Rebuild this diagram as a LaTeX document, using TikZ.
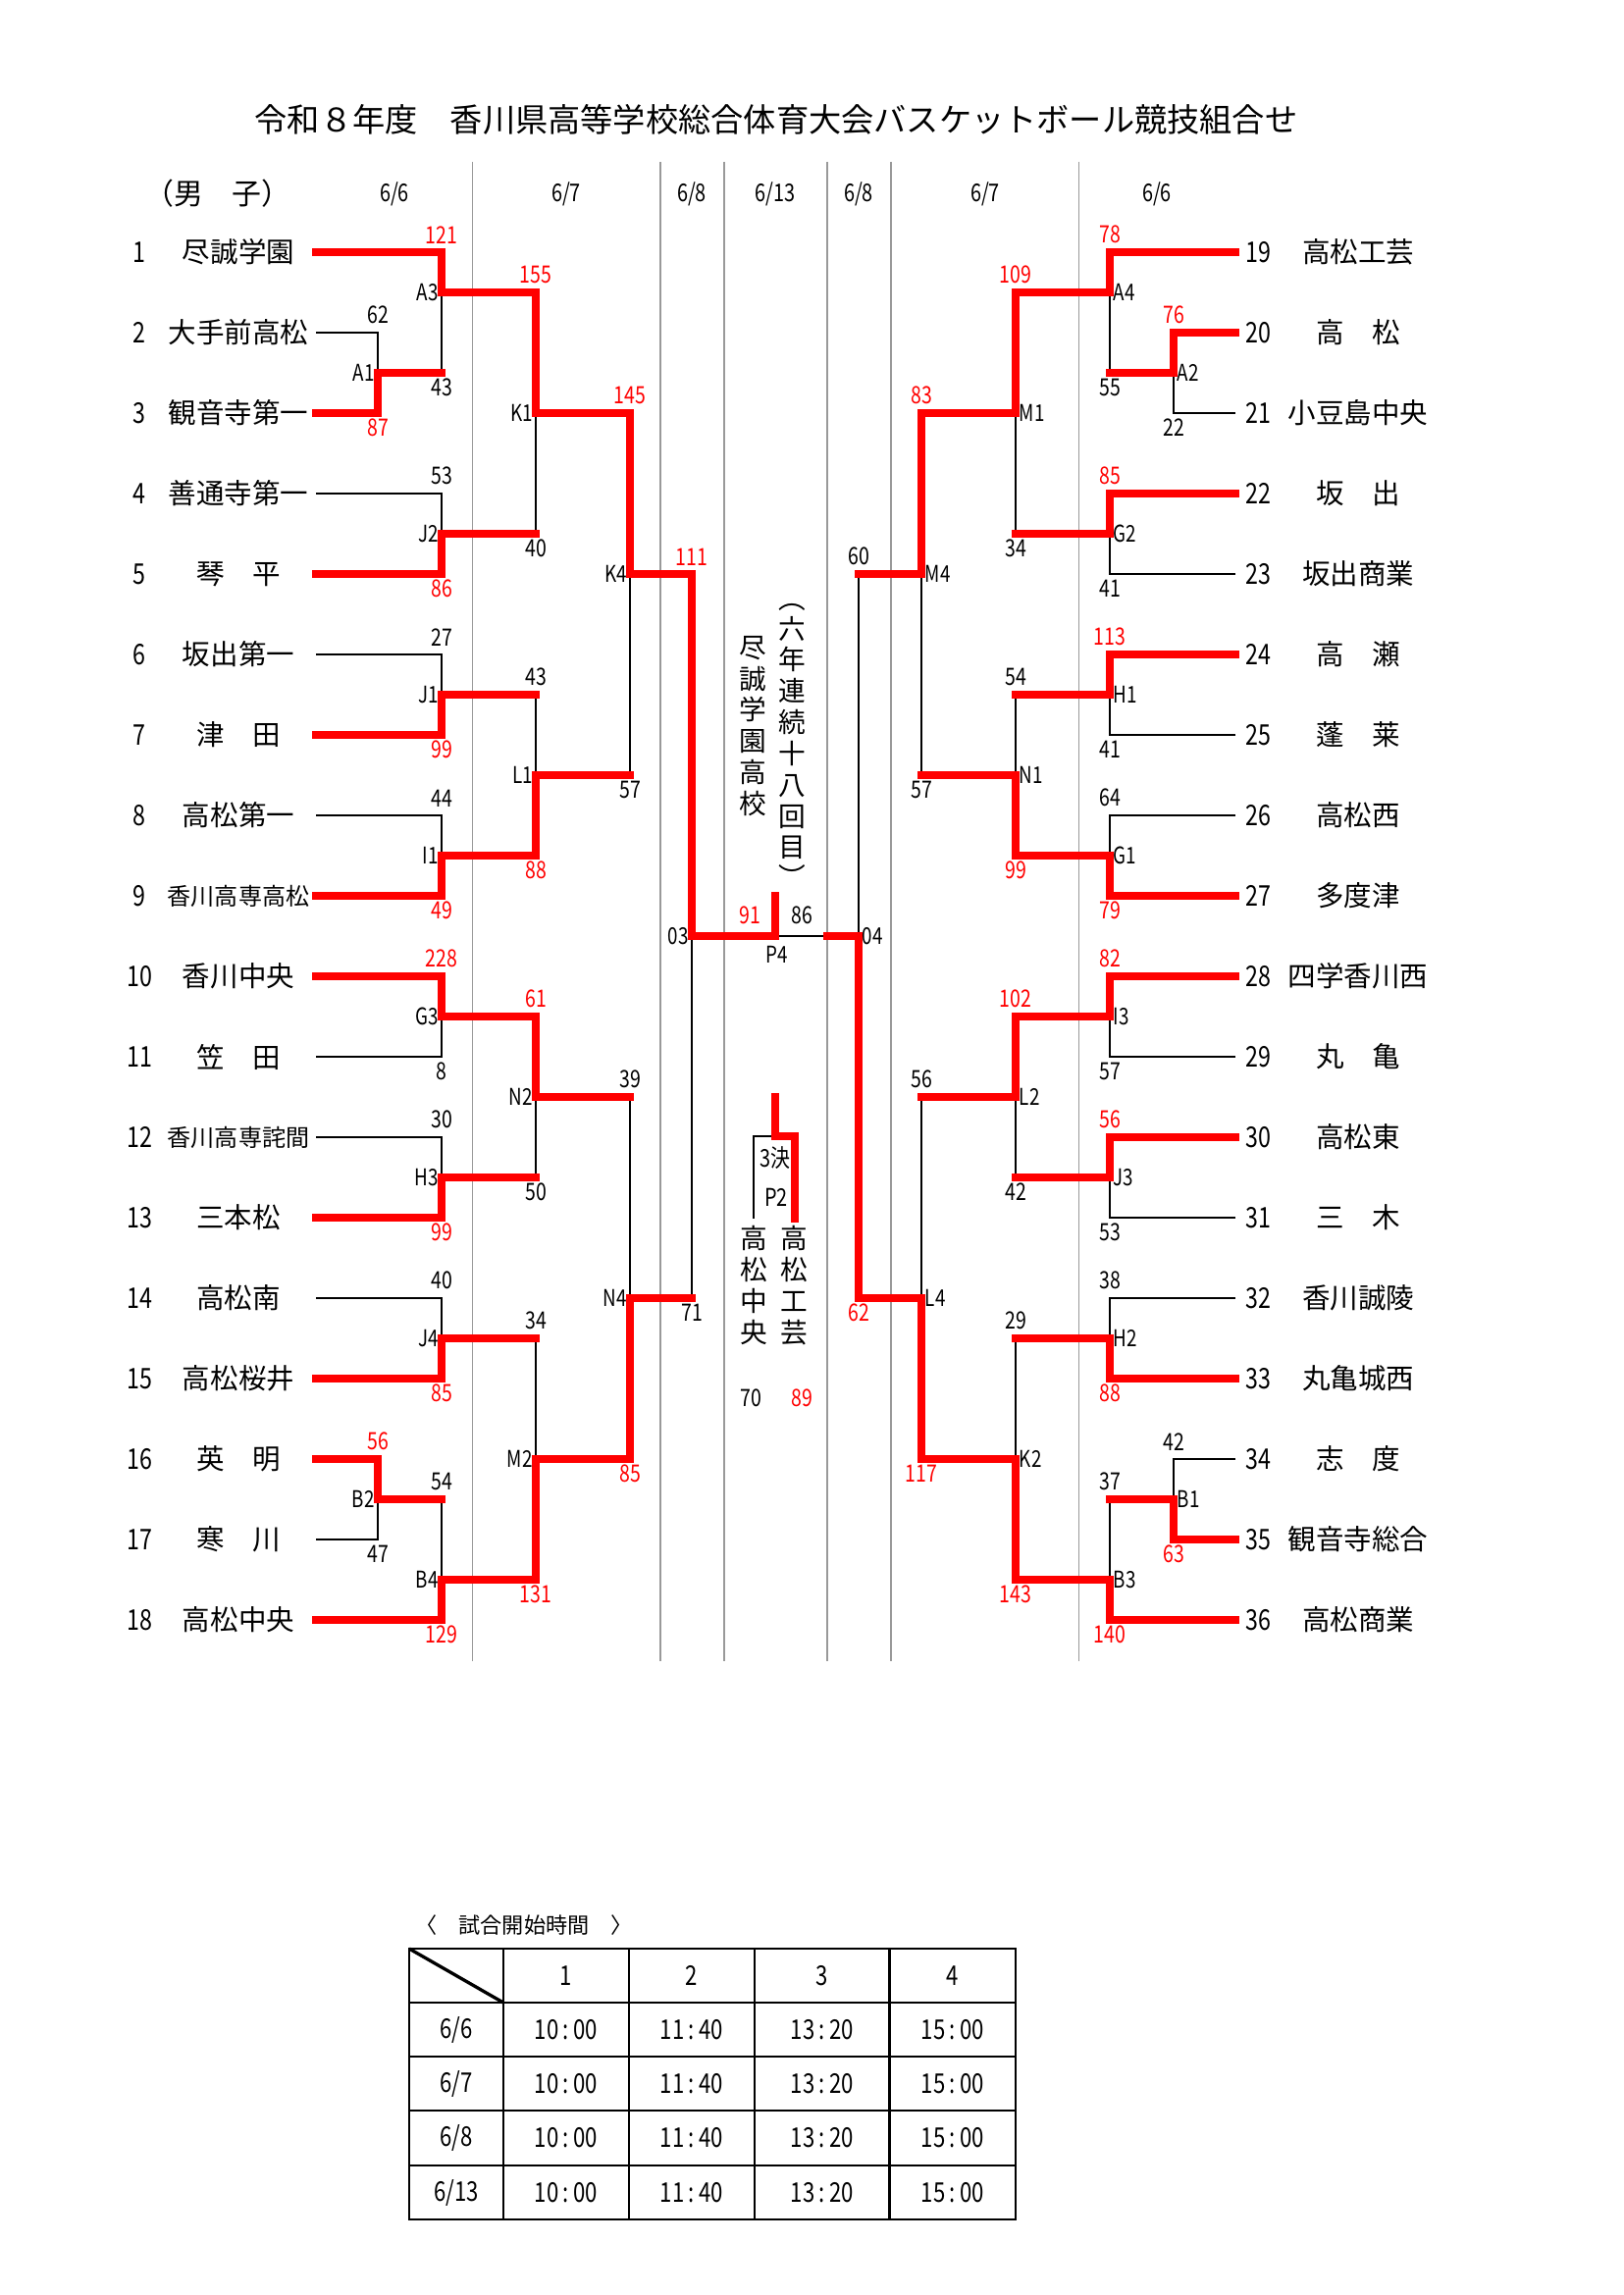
\documentclass[tikz,border=0pt]{standalone}
\usepackage{fontspec}
\setmainfont{Noto Sans CJK JP}
\newfontfamily\nf[FakeStretch=0.8]{Noto Sans CJK JP}
\usetikzlibrary{calc}
\begin{document}
\begin{tikzpicture}[x=0.127mm,y=-0.127mm,
  win/.style={draw=red, line width=2.6pt, line cap=rect, line join=miter},
  lose/.style={draw=black, line width=0.75pt},
  gline/.style={draw=black!40, line width=0.5pt},
  sc/.style={font=\nf\fontsize{8.8}{10}\selectfont, inner sep=0pt},
  scr/.style={sc, text=red},
  ml/.style={font=\nf\fontsize{8.5}{10}\selectfont, inner sep=0pt},
  tnum/.style={font=\nf\fontsize{10.5}{12}\selectfont, inner sep=0pt},
  tname/.style={inner sep=0pt},
  hdr/.style={font=\nf\fontsize{9}{10}\selectfont, inner sep=0pt},
  vt/.style={font=\fontsize{10}{11.5}\selectfont, align=center, inner sep=0pt},
  tbl/.style={draw=black, line width=1pt},
  tcell/.style={font=\nf\fontsize{10}{12}\selectfont, inner sep=0pt}]
\useasboundingbox (0,0) rectangle (1654,2339);
\fill[white] (0,0) rectangle (1654,2339);

% title
\node[inner sep=0pt, font=\fontsize{12}{14}\selectfont] (title) at (791,122) {令和８年度　香川県高等学校総合体育大会バスケットボール競技組合せ};
\node[inner sep=0pt, font=\fontsize{10.8}{12}\selectfont] (sex) at (222,197) {（男　子）};

% round separators
\foreach \gx in {481.5,673,738,843,908,1099.5} \draw[gline] (\gx,165) -- (\gx,1693);

% date headers
\node[hdr] (d1) at (402,198) {6/6};
\node[hdr] (d2) at (577,198) {6/7};
\node[hdr] (d3) at (705,198) {6/8};
\node[hdr] (d4) at (790,198) {6/13};
\node[hdr] (d5) at (875,198) {6/8};
\node[hdr] (d6) at (1004,198) {6/7};
\node[hdr] (d7) at (1179,198) {6/6};

% teams left
\foreach \i/\fs/\nm in {1/10.3/尽誠学園,2/10.3/大手前高松,3/10.3/観音寺第一,4/10.3/善通寺第一,5/10.3/琴　平,6/10.3/坂出第一,7/10.3/津　田,8/10.3/高松第一,9/8.7/香川高専高松,10/10.3/香川中央,11/10.3/笠　田,12/8.7/香川高専詫間,13/10.3/三本松,14/10.3/高松南,15/10.3/高松桜井,16/10.3/英　明,17/10.3/寒　川,18/10.3/高松中央}{
  \pgfmathsetmacro\yy{257+82*(\i-1)}
  \coordinate (tl\i) at (322,\yy);
  \node[tnum] (no\i) at (142,\yy) {\i};
  \node[tname, font=\fontsize{\fs}{12}\selectfont] (nm\i) at (243,\yy) {\nm};
}
% teams right
\foreach \i/\fs/\nm in {19/10.3/高松工芸,20/10.3/高　松,21/10.3/小豆島中央,22/10.3/坂　出,23/10.3/坂出商業,24/10.3/高　瀬,25/10.3/蓬　莱,26/10.3/高松西,27/10.3/多度津,28/10.3/四学香川西,29/10.3/丸　亀,30/10.3/高松東,31/10.3/三　木,32/10.3/香川誠陵,33/10.3/丸亀城西,34/10.3/志　度,35/10.3/観音寺総合,36/10.3/高松商業}{
  \pgfmathsetmacro\yy{257+82*(\i-19)}
  \coordinate (tr\i) at (1259,\yy);
  \node[tnum] (no\i) at (1282,\yy) {\i};
  \node[tname, font=\fontsize{\fs}{12}\selectfont] (nm\i) at (1384,\yy) {\nm};
}

% match points left
\coordinate (mA1) at (385,380);
\coordinate (mA3) at (450,298);
\coordinate (mJ2) at (450,544);
\coordinate (mK1) at (546,421);
\coordinate (mJ1) at (450,708);
\coordinate (mI1) at (450,872);
\coordinate (mL1) at (546,790);
\coordinate (mK4) at (642,585);
\coordinate (mG3) at (450,1036);
\coordinate (mH3) at (450,1200);
\coordinate (mN2) at (546,1118);
\coordinate (mJ4) at (450,1364);
\coordinate (mB2) at (385,1528);
\coordinate (mB4) at (450,1610);
\coordinate (mM2) at (546,1487);
\coordinate (mN4) at (642,1323);
\coordinate (m03) at (705,954);
\coordinate (P4) at (790,954);
\coordinate (p4top) at (790,913);
\coordinate (g4) at (843,954);
% match points right
\coordinate (mA2) at (1196,380);
\coordinate (mA4) at (1131,298);
\coordinate (mG2) at (1131,544);
\coordinate (mM1) at (1035,421);
\coordinate (mH1) at (1131,708);
\coordinate (mG1) at (1131,872);
\coordinate (mN1) at (1035,790);
\coordinate (mM4) at (939,585);
\coordinate (mI3) at (1131,1036);
\coordinate (mJ3) at (1131,1200);
\coordinate (mL2) at (1035,1118);
\coordinate (mH2) at (1131,1364);
\coordinate (mB1) at (1196,1528);
\coordinate (mB3) at (1131,1610);
\coordinate (mK2) at (1035,1487);
\coordinate (mL4) at (939,1323);
\coordinate (m04) at (875,954);
% third place
\coordinate (P2) at (790,1158);
\coordinate (p2top) at (790,1118);
\coordinate (p2l) at (768,1242);
\coordinate (p2r) at (810,1242);

% ---- black (losing) lines
\draw[lose] (tl2) -| (mA1);
\draw[lose] (mA1 -| mA3) -- (mA3);
\draw[lose] (tl4) -| (mJ2);
\draw[lose] (mJ2 -| mK1) -- (mK1);
\draw[lose] (tl6) -| (mJ1);
\draw[lose] (tl8) -| (mI1);
\draw[lose] (mJ1 -| mL1) -- (mL1);
\draw[lose] (mL1 -| mK4) -- (mK4);
\draw[lose] (tl11) -| (mG3);
\draw[lose] (tl12) -| (mH3);
\draw[lose] (mH3 -| mN2) -- (mN2);
\draw[lose] (tl14) -| (mJ4);
\draw[lose] (tl17) -| (mB2);
\draw[lose] (mB2 -| mB4) -- (mB4);
\draw[lose] (mJ4 -| mM2) -- (mM2);
\draw[lose] (mN2 -| mN4) -- (mN4);
\draw[lose] (mN4 -| m03) -- (m03);
\draw[lose] (tr21) -| (mA2);
\draw[lose] (mA2 -| mA4) -- (mA4);
\draw[lose] (tr23) -| (mG2);
\draw[lose] (mG2 -| mM1) -- (mM1);
\draw[lose] (tr25) -| (mH1);
\draw[lose] (tr26) -| (mG1);
\draw[lose] (mH1 -| mN1) -- (mN1);
\draw[lose] (mN1 -| mM4) -- (mM4);
\draw[lose] (tr29) -| (mI3);
\draw[lose] (tr31) -| (mJ3);
\draw[lose] (mJ3 -| mL2) -- (mL2);
\draw[lose] (tr32) -| (mH2);
\draw[lose] (tr34) -| (mB1);
\draw[lose] (mB1 -| mB3) -- (mB3);
\draw[lose] (mH2 -| mK2) -- (mK2);
\draw[lose] (mL2 -| mL4) -- (mL4);
\draw[lose] (mM4 -| m04) -- (m04);
\draw[lose] (g4) -- (P4);
\draw[lose] (p2l) |- (P2);

% ---- red (winning) lines
\draw[win] (tl1) -| (mA3) -| (mK1) -| (mK4) -| (m03) -- (P4) -- (p4top);
\draw[win] (tl3) -| (mA1) -- (mA1 -| mA3);
\draw[win] (tl5) -| (mJ2) -- (mJ2 -| mK1);
\draw[win] (tl7) -| (mJ1) -- (mJ1 -| mL1);
\draw[win] (tl9) -| (mI1) -| (mL1) -- (mL1 -| mK4);
\draw[win] (tl10) -| (mG3) -| (mN2) -- (mN2 -| mN4);
\draw[win] (tl13) -| (mH3) -- (mH3 -| mN2);
\draw[win] (tl15) -| (mJ4) -- (mJ4 -| mM2);
\draw[win] (tl16) -| (mB2) -- (mB2 -| mB4);
\draw[win] (tl18) -| (mB4) -| (mM2) -| (mN4) -- (mN4 -| m03);
\draw[win] (tr19) -| (mA4) -| (mM1) -| (mM4) -- (mM4 -| m04);
\draw[win] (tr20) -| (mA2) -- (mA2 -| mA4);
\draw[win] (tr22) -| (mG2) -- (mG2 -| mM1);
\draw[win] (tr24) -| (mH1) -- (mH1 -| mN1);
\draw[win] (tr27) -| (mG1) -| (mN1) -- (mN1 -| mM4);
\draw[win] (tr28) -| (mI3) -| (mL2) -- (mL2 -| mL4);
\draw[win] (tr30) -| (mJ3) -- (mJ3 -| mL2);
\draw[win] (tr33) -| (mH2) -- (mH2 -| mK2);
\draw[win] (tr35) -| (mB1) -- (mB1 -| mB3);
\draw[win] (tr36) -| (mB3) -| (mK2) -| (mL4) -| (m04) -- (g4);
\draw[win] (p2r) |- (P2) -- (p2top);

% ---- match labels
\foreach \m in {A1,A3,J2,K1,J1,I1,L1,K4,G3,H3,N2,J4,B2,B4,M2,N4}
  \node[ml, left=1pt] (lab\m) at (m\m) {\m};
\foreach \m in {A2,A4,G2,M1,H1,G1,N1,M4,I3,J3,L2,H2,B1,B3,K2,L4}
  \node[ml, right=1.2pt] (lab\m) at (m\m) {\m};
\node[ml, left=1pt] (lab03) at (m03) {03};
\node[ml, right=1.2pt] (lab04) at (m04) {04};
\node[ml] (labP4) at (792,973) {P4};

% ---- scores left
\node[sc, above=3pt] (s1) at (mA1 |- tl2) {62};
\node[scr, below=2pt] (s2) at (mA1 |- tl3) {87};
\node[scr, above=3pt] (s3) at (mA3 |- tl1) {121};
\node[sc, below=2pt] (s4) at (mA3 |- mA1) {43};
\node[sc, above=3pt] (s5) at (mJ2 |- tl4) {53};
\node[scr, below=2pt] (s6) at (mJ2 |- tl5) {86};
\node[scr, above=3pt] (s7) at (mK1 |- mA3) {155};
\node[sc, below=2pt] (s8) at (mK1 |- mJ2) {40};
\node[sc, above=3pt] (s9) at (mJ1 |- tl6) {27};
\node[scr, below=2pt] (s10) at (mJ1 |- tl7) {99};
\node[sc, above=3pt] (s11) at (mI1 |- tl8) {44};
\node[scr, below=2pt] (s12) at (mI1 |- tl9) {49};
\node[sc, above=3pt] (s13) at (mL1 |- mJ1) {43};
\node[scr, below=2pt] (s14) at (mL1 |- mI1) {88};
\node[scr, above=3pt] (s15) at (mK4 |- mK1) {145};
\node[sc, below=2pt] (s16) at (mK4 |- mL1) {57};
\node[scr, above=3pt] (s17) at (mG3 |- tl10) {228};
\node[sc, below=2pt] (s18) at (mG3 |- tl11) {8};
\node[sc, above=3pt] (s19) at (mH3 |- tl12) {30};
\node[scr, below=2pt] (s20) at (mH3 |- tl13) {99};
\node[scr, above=3pt] (s21) at (mN2 |- mG3) {61};
\node[sc, below=2pt] (s22) at (mN2 |- mH3) {50};
\node[sc, above=3pt] (s23) at (mJ4 |- tl14) {40};
\node[scr, below=2pt] (s24) at (mJ4 |- tl15) {85};
\node[scr, above=3pt] (s25) at (mB2 |- tl16) {56};
\node[sc, below=2pt] (s26) at (mB2 |- tl17) {47};
\node[sc, above=3pt] (s27) at (mB4 |- mB2) {54};
\node[scr, below=2pt] (s28) at (mB4 |- tl18) {129};
\node[sc, above=3pt] (s29) at (mM2 |- mJ4) {34};
\node[scr, below=2pt] (s30) at (mM2 |- mB4) {131};
\node[sc, above=3pt] (s31) at (mN4 |- mN2) {39};
\node[scr, below=2pt] (s32) at (mN4 |- mM2) {85};
\node[scr, above=3pt] (s33) at (m03 |- mK4) {111};
\node[sc, below=2pt] (s34) at (m03 |- mN4) {71};
% ---- scores right
\node[scr, above=3pt] (r1) at (mA2 |- tr20) {76};
\node[sc, below=2pt] (r2) at (mA2 |- tr21) {22};
\node[scr, above=3pt] (r3) at (mA4 |- tr19) {78};
\node[sc, below=2pt] (r4) at (mA4 |- mA2) {55};
\node[scr, above=3pt] (r5) at (mG2 |- tr22) {85};
\node[sc, below=2pt] (r6) at (mG2 |- tr23) {41};
\node[scr, above=3pt] (r7) at (mM1 |- mA4) {109};
\node[sc, below=2pt] (r8) at (mM1 |- mG2) {34};
\node[scr, above=3pt] (r9) at (mH1 |- tr24) {113};
\node[sc, below=2pt] (r10) at (mH1 |- tr25) {41};
\node[sc, above=3pt] (r11) at (mG1 |- tr26) {64};
\node[scr, below=2pt] (r12) at (mG1 |- tr27) {79};
\node[sc, above=3pt] (r13) at (mN1 |- mH1) {54};
\node[scr, below=2pt] (r14) at (mN1 |- mG1) {99};
\node[scr, above=3pt] (r15) at (mM4 |- mM1) {83};
\node[sc, below=2pt] (r16) at (mM4 |- mN1) {57};
\node[scr, above=3pt] (r17) at (mI3 |- tr28) {82};
\node[sc, below=2pt] (r18) at (mI3 |- tr29) {57};
\node[scr, above=3pt] (r19) at (mJ3 |- tr30) {56};
\node[sc, below=2pt] (r20) at (mJ3 |- tr31) {53};
\node[scr, above=3pt] (r21) at (mL2 |- mI3) {102};
\node[sc, below=2pt] (r22) at (mL2 |- mJ3) {42};
\node[sc, above=3pt] (r23) at (mH2 |- tr32) {38};
\node[scr, below=2pt] (r24) at (mH2 |- tr33) {88};
\node[sc, above=3pt] (r25) at (mB1 |- tr34) {42};
\node[scr, below=2pt] (r26) at (mB1 |- tr35) {63};
\node[sc, above=3pt] (r27) at (mB3 |- mB1) {37};
\node[scr, below=2pt] (r28) at (mB3 |- tr36) {140};
\node[sc, above=3pt] (r29) at (mK2 |- mH2) {29};
\node[scr, below=2pt] (r30) at (mK2 |- mB3) {143};
\node[sc, above=3pt] (r31) at (mL4 |- mL2) {56};
\node[scr, below=2pt] (r32) at (mL4 |- mK2) {117};
\node[sc, above=3pt] (r33) at (m04 |- mM4) {60};
\node[scr, below=2pt] (r34) at (m04 |- mL4) {62};

% ---- final and third place
\node[scr] (f1) at (764,933) {91};
\node[sc] (f2) at (817,933) {86};
\node[vt] (champ) at (767,740) {尽\\誠\\学\\園\\高\\校};
\node[vt] (streak) at (807,752) {六\\年\\連\\続\\十\\八\\回\\目};
\node[vt] (pa) at (807,619) {︵};
\node[vt] (pb) at (807,893) {︶};
\node[ml, font=\nf\fontsize{9}{10}\selectfont] (t3) at (790,1180) {3決};
\node[ml, font=\nf\fontsize{9}{10}\selectfont] (tp2) at (791,1220) {P2};
\node[vt] (thl) at (768,1310) {高\\松\\中\\央};
\node[vt] (thr) at (809,1310) {高\\松\\工\\芸};
\node[sc] (t70) at (765,1425) {70};
\node[scr] (t89) at (817,1425) {89};

% ---- start time table
\node[inner sep=0pt, font=\fontsize{8}{10}\selectfont] (tt1) at (435,1962) {〈};
\node[inner sep=0pt, font=\fontsize{8}{10}\selectfont] (tt2) at (534,1962) {試合開始時間};
\node[inner sep=0pt, font=\fontsize{8}{10}\selectfont] (tt3) at (634,1962) {〉};
\draw[tbl] (417,1986) rectangle (1035,2262);
\foreach \cx in {513,641,769,906.5} \draw[tbl] (\cx,1986) -- (\cx,2262);
\foreach \ry in {2041,2096,2151,2207} \draw[tbl] (417,\ry) -- (1035,\ry);
\draw[tbl, line width=1.2pt] (417,1986) -- (513,2041);
\foreach \c/\cx in {1/577,2/705,3/838,4/971}
  \node[tcell] (h\c) at (\cx,2013.5) {\c};
\foreach \r/\ry/\dd in {1/2068.5/{6/6},2/2123.5/{6/7},3/2179/{6/8},4/2234.5/{6/13}}{
  \node[tcell] (dd\r) at (465,\ry) {\dd};
  \node[tcell] (c\r a) at (577,\ry) {10\,:\,00};
  \node[tcell] (c\r b) at (705,\ry) {11\,:\,40};
  \node[tcell] (c\r c) at (838,\ry) {13\,:\,20};
  \node[tcell] (c\r d) at (971,\ry) {15\,:\,00};
}
\end{tikzpicture}
\end{document}
